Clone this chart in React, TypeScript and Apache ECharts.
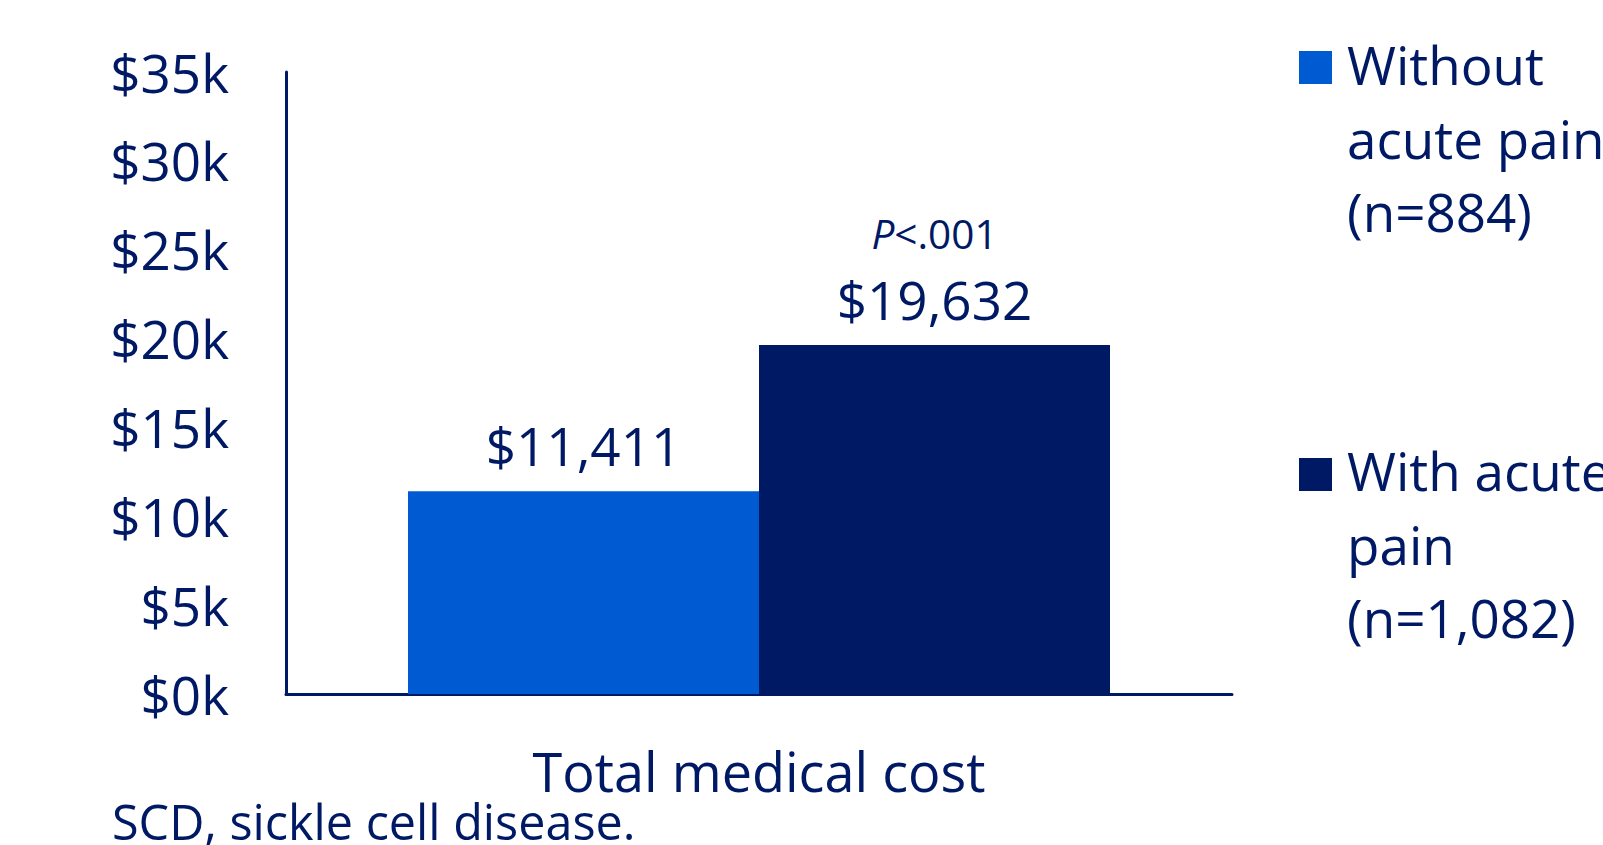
import React, { useEffect, useRef } from "react";
import * as echarts from "echarts";

const categories = ["Total medical cost"];
const seriesNames = ["Without acute pain (n=884)", "With acute pain (n=1,082)"];
const legendLines = [
  "Without\nacute pain\n(n=884)",
  "With acute\npain\n(n=1,082)",
];
const withoutPain = [11411];
const withPain = [19632];
const pValue = "<.001";
const yMax = 35000;
const yInterval = 5000;
const footnote = "SCD, sickle cell disease.";

const NAVY = "#001965";
const BLUE = "#005AD2";
const FONT = "'Open Sans', 'Noto Sans', sans-serif";

const fmtMoney = (v: number) => "$" + v.toLocaleString("en-US");

export default function App() {
  const ref = useRef<HTMLDivElement>(null);
  useEffect(() => {
    if (!ref.current) return;
    const chart = echarts.init(ref.current, null, { renderer: "svg" });
    chart.setOption({
      animation: false,
      backgroundColor: "#ffffff",
      textStyle: { fontFamily: FONT, color: NAVY },
      grid: { left: 286, right: 371, top: 72, bottom: 151 },
      xAxis: {
        type: "category",
        data: categories,
        axisLine: { show: true, lineStyle: { color: NAVY, width: 3 } },
        axisTick: { show: false },
        axisLabel: {
          color: NAVY,
          fontFamily: FONT,
          fontSize: 54,
          lineHeight: 54,
          margin: 50,
        },
      },
      yAxis: {
        type: "value",
        min: 0,
        max: yMax,
        interval: yInterval,
        splitLine: { show: false },
        axisTick: { show: false },
        axisLine: { show: true, lineStyle: { color: NAVY, width: 3 } },
        axisLabel: {
          color: NAVY,
          fontFamily: FONT,
          fontSize: 53,
          margin: 57,
          formatter: (v: number) => "$" + v / 1000 + "k",
        },
      },
      series: [
        {
          name: seriesNames[0],
          type: "bar",
          data: withoutPain,
          barWidth: 351,
          barGap: "0%",
          itemStyle: { color: BLUE },
          label: {
            show: true,
            position: "top",
            distance: 19,
            color: NAVY,
            fontFamily: FONT,
            fontSize: 53,
            lineHeight: 53,
            formatter: (p: any) => fmtMoney(p.value),
          },
        },
        {
          name: seriesNames[1],
          type: "bar",
          data: withPain,
          barWidth: 351,
          barGap: "0%",
          itemStyle: { color: NAVY },
          label: {
            show: true,
            position: "top",
            distance: 19,
            color: NAVY,
            fontFamily: FONT,
            formatter: (p: any) =>
              "{pi|P}{pn|" + pValue + "}\n{v|" + fmtMoney(p.value) + "}",
            rich: {
              pi: {
                fontStyle: "italic",
                fontSize: 40.5,
                lineHeight: 80,
                color: NAVY,
                fontFamily: FONT,
              },
              pn: {
                fontSize: 40.5,
                lineHeight: 80,
                color: NAVY,
                fontFamily: FONT,
              },
              v: {
                fontSize: 53,
                lineHeight: 53,
                color: NAVY,
                fontFamily: FONT,
              },
            },
          },
        },
      ],
      graphic: [
        {
          type: "rect",
          shape: { x: 1299, y: 51, width: 33, height: 33 },
          style: { fill: BLUE },
        },
        {
          type: "text",
          x: 1347,
          y: 28,
          style: {
            text: legendLines[0],
            fill: NAVY,
            fontSize: 53,
            fontFamily: FONT,
            lineHeight: 73.5,
            verticalAlign: "top",
            align: "left",
          },
        },
        {
          type: "rect",
          shape: { x: 1299, y: 458, width: 33, height: 33 },
          style: { fill: NAVY },
        },
        {
          type: "text",
          x: 1347,
          y: 434,
          style: {
            text: legendLines[1],
            fill: NAVY,
            fontSize: 53,
            fontFamily: FONT,
            lineHeight: 73.5,
            verticalAlign: "top",
            align: "left",
          },
        },
        {
          type: "text",
          x: 112,
          y: 821,
          style: {
            text: footnote,
            fill: NAVY,
            fontSize: 48.5,
            lineHeight: 44,
            fontFamily: FONT,
            verticalAlign: "middle",
            align: "left",
          },
        },
      ],
    });
    return () => chart.dispose();
  }, []);
  return (
    <div
      ref={ref}
      style={{ position: "fixed", left: 0, top: 0, width: 1603, height: 845 }}
    />
  );
}
